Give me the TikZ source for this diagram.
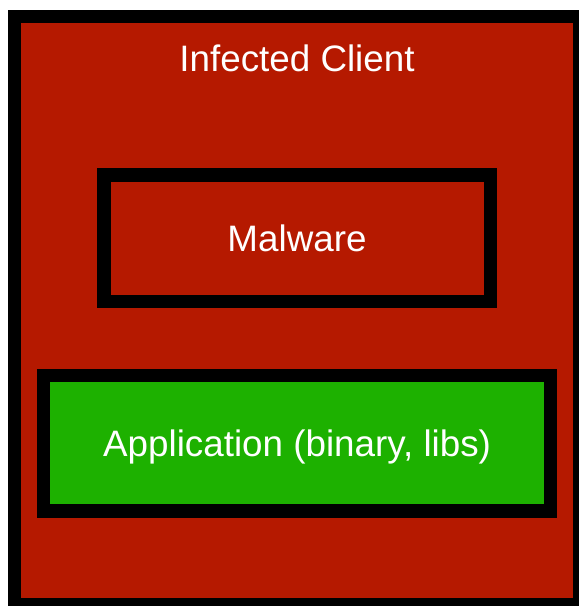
\documentclass[tikz,border=0pt]{standalone}
\usepackage{fontspec}
\setmainfont{Liberation Sans}
\definecolor{hostred}{RGB}{181,25,0}
\definecolor{appgreen}{RGB}{29,177,0}
\begin{document}
\begin{tikzpicture}[x=1pt,y=-1pt,
  frame/.style={draw=black, rectangle, inner sep=0pt, text=white,
    font=\fontsize{36.8}{44}\selectfont, text height=26.4pt, text depth=0pt},
  caption/.style={text=white, font=\fontsize{36.8}{44}\selectfont, inner sep=0pt}]
  \useasboundingbox (0,0) rectangle (579,606);
  \clip (0,0) rectangle (579,606);
  % host machine
  \node[frame, fill=hostred, line width=13pt, minimum width=565pt, minimum height=588pt]
    (client) at (297,310.5) {};
  \node[caption, anchor=base] (clienttitle) at (297,71) {Infected Client};
  % malware component
  \node[frame, fill=hostred, line width=13.5pt, minimum width=386.5pt, minimum height=126.5pt]
    (malware) at (297,238.25) {Malware};
  % application component
  \node[frame, fill=appgreen, line width=13.5pt, minimum width=507pt, minimum height=135.3pt]
    (app) at (297.1,443.1) {Application (binary, libs)};
\end{tikzpicture}
\end{document}
